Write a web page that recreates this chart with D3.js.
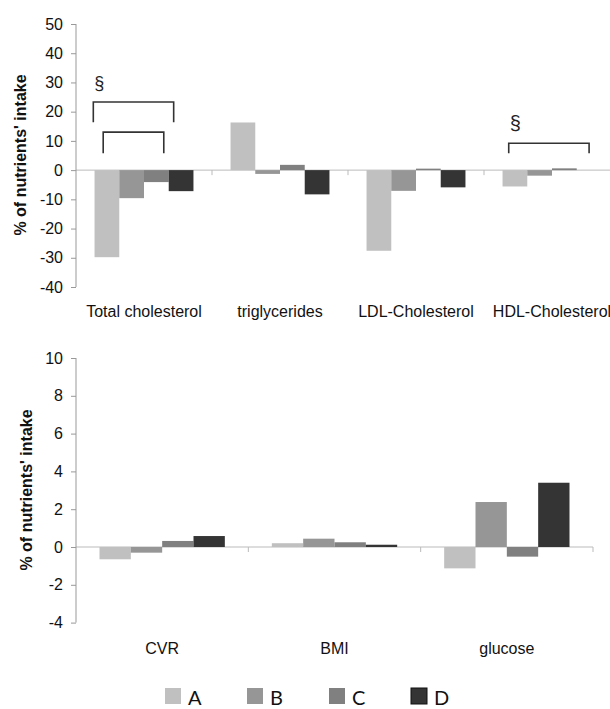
<!DOCTYPE html>
<html>
<head>
<meta charset="utf-8">
<script src="https://cdn.jsdelivr.net/npm/d3@7/dist/d3.min.js"></script>
<style>
  body { margin: 0; background: #fff; }
  svg { display: block; font-family: "Liberation Sans", Arial, sans-serif; }
</style>
</head>
<body>
<svg id="chart" width="610" height="709"></svg>
<script>
// series / groups
var series = ["A", "B", "C", "D"];
var colors = ["#c0c0c0", "#969696", "#808080", "#343434"];

// top panel: lipids
var lipidCats = ["Total cholesterol", "triglycerides", "LDL-Cholesterol", "HDL-Cholesterol"];
var lipidA = [-29.8, 16.3, -27.6, -5.6];
var lipidB = [-9.6, -1.3, -7.1, -1.9];
var lipidC = [-4.1, 1.8, 0.5, 0.6];
var lipidD = [-7.2, -8.3, -5.9, 0];
var lipidTicks = [50, 40, 30, 20, 10, 0, -10, -20, -30, -40];

// bottom panel
var otherCats = ["CVR", "BMI", "glucose"];
var otherA = [-0.65, 0.2, -1.13];
var otherB = [-0.3, 0.44, 2.38];
var otherC = [0.32, 0.25, -0.51];
var otherD = [0.58, 0.12, 3.4];
var otherTicks = [10, 8, 6, 4, 2, 0, -2, -4];

var yTitle = "% of nutrients' intake";

var svg = d3.select("#chart");

function panel(cfg) {
  var cats = cfg.cats;
  var rows = cats.map(function(c, i) {
    return { cat: c, vals: cfg.vals.map(function(v) { return v[i]; }) };
  });

  var y = d3.scaleLinear().domain(cfg.domain).range(cfg.yRange);
  var x = d3.scaleBand().domain(cats).range(cfg.xRange).padding(0);
  var gap = x.bandwidth() * 1.5 / 5.5 / 2;
  var xs = d3.scaleBand().domain(series).range([gap, x.bandwidth() - gap]).padding(0);

  var g = svg.append("g");

  // zero line + category boundary ticks
  g.selectAll(".cb").data(cats.slice(1).concat(cfg.endTick ? ["end"] : []))
    .enter().append("line")
    .attr("x1", function(d) { return d === "end" ? cfg.xRange[1] : x(d); })
    .attr("x2", function(d) { return d === "end" ? cfg.xRange[1] : x(d); })
    .attr("y1", y(0)).attr("y2", y(0) + 5)
    .attr("stroke", "#bbb");
  g.append("line")
    .attr("x1", cfg.xRange[0]).attr("x2", cfg.lineEnd)
    .attr("y1", y(0)).attr("y2", y(0))
    .attr("stroke", "#bbb");

  // bars
  var grp = g.selectAll(".grp").data(rows).enter().append("g")
    .attr("transform", function(d) { return "translate(" + x(d.cat) + ",0)"; });
  grp.selectAll("rect").data(function(d) { return d.vals; }).enter().append("rect")
    .attr("x", function(d, i) { return xs(series[i]); })
    .attr("width", xs.bandwidth())
    .attr("y", function(d) { return y(Math.max(0, d)); })
    .attr("height", function(d) { return Math.abs(y(d) - y(0)); })
    .attr("fill", function(d, i) { return colors[i]; });

  // y axis (plain hyphen for negatives, like the original)
  var yAxis = d3.axisLeft(y).tickValues(cfg.ticks).tickSize(6).tickPadding(7)
    .tickFormat(function(d) { return String(d); });
  var ya = g.append("g").attr("transform", "translate(" + cfg.xRange[0] + ",0)").call(yAxis);
  ya.select(".domain").attr("stroke", "#999").attr("d", "M0," + y(cfg.ticks[0]) + "V" + y(cfg.ticks[cfg.ticks.length - 1]));
  ya.selectAll(".tick line").attr("stroke", "#999").attr("x2", -5);
  ya.selectAll(".tick text").attr("fill", "#111").style("font-size", "16px")
    .style("font-family", "'Liberation Sans', Arial, sans-serif");

  // category labels
  g.selectAll(".clab").data(cats).enter().append("text")
    .attr("x", function(d) { return x(d) + x.bandwidth() / 2; })
    .attr("y", cfg.labelY)
    .attr("text-anchor", "middle")
    .style("font-size", "16px").attr("fill", "#111")
    .text(function(d) { return d; });

  // y title
  g.append("text")
    .attr("transform", "translate(" + cfg.titleX + "," + cfg.titleY + ") rotate(-90)")
    .attr("text-anchor", "middle")
    .style("font-size", "16px").style("font-weight", "bold").attr("fill", "#111")
    .text(yTitle);

  return { x: x, xs: xs, y: y, g: g };
}

var lipidPanel = panel({
  cats: lipidCats, vals: [lipidA, lipidB, lipidC, lipidD],
  domain: [50, -40], yRange: [24, 287], xRange: [76, 620], lineEnd: 610,
  ticks: lipidTicks, labelY: 317,
  titleX: 26, titleY: 155, endTick: false
});

var otherPanel = panel({
  cats: otherCats, vals: [otherA, otherB, otherC, otherD],
  domain: [10, -4], yRange: [358, 622.6], xRange: [76, 593], lineEnd: 593,
  ticks: otherTicks, labelY: 654,
  titleX: 32, titleY: 490, endTick: true
});

// significance brackets: category, from/to in bar widths, top and leg values
var brackets = [
  { cat: "Total cholesterol", from: -0.05, to: 3.2, top: 23.3, leg: 16.4, mark: 18 },
  { cat: "Total cholesterol", from: 0.35, to: 2.8, top: 13, leg: 5.8, mark: 0 },
  { cat: "HDL-Cholesterol", from: 0.25, to: 3.5, top: 9.2, leg: 5.8, mark: 20 }
];
var P = lipidPanel;
var bw = P.xs.bandwidth();
brackets.forEach(function(b) {
  var x0 = P.x(b.cat) + P.xs("A") + b.from * bw;
  var x1 = P.x(b.cat) + P.xs("A") + b.to * bw;
  P.g.append("path")
    .attr("d", "M" + x0 + "," + P.y(b.leg) + "V" + P.y(b.top) + "H" + x1 + "V" + P.y(b.leg))
    .attr("fill", "none").attr("stroke", "#333").attr("stroke-width", 1.6);
  if (b.mark) {
    P.g.append("text")
      .attr("x", x0 + 1).attr("y", P.y(b.top) - 13)
      .style("font-size", b.mark + "px").attr("fill", "#222")
      .text("§");
  }
});

// legend
var leg = svg.append("g").attr("transform", "translate(165,688)");
var items = leg.selectAll("g").data(series).enter().append("g")
  .attr("transform", function(d, i) { return "translate(" + (i * 82) + ",0)"; });
items.append("rect")
  .attr("width", 16).attr("height", 16)
  .attr("fill", function(d, i) { return colors[i]; })
  .attr("stroke", function(d, i) { return i === 3 ? "#111" : "none"; });
items.append("text")
  .attr("x", 23).attr("y", 17)
  .style("font-family", "Lato, 'Open Sans', sans-serif").style("font-size", "20px").attr("fill", "#111")
  .text(function(d) { return d; });
</script>
</body>
</html>
